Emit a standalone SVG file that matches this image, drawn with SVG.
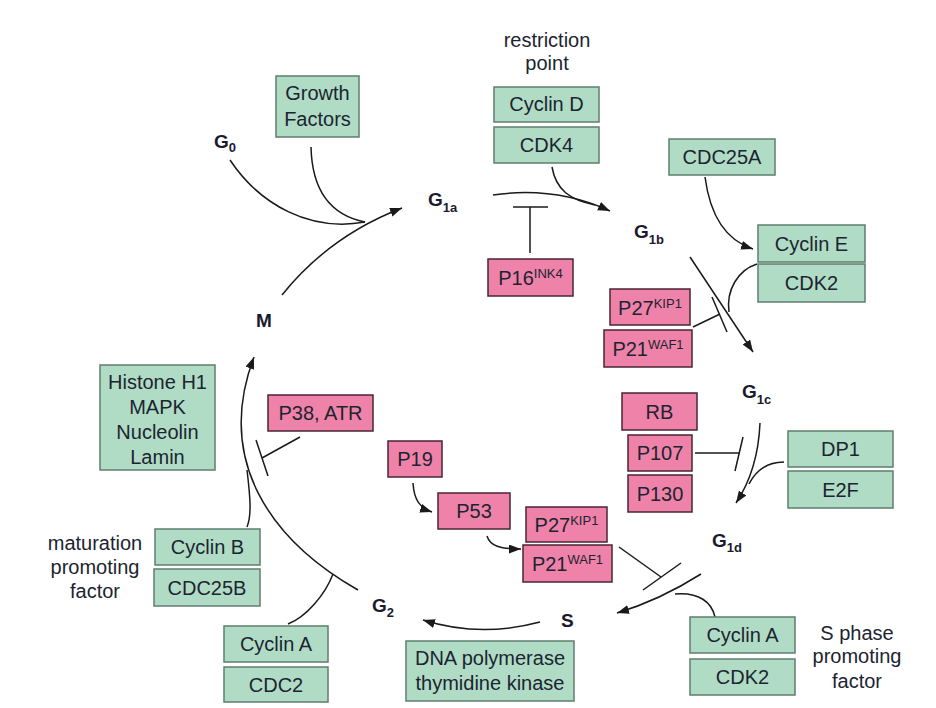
<svg xmlns="http://www.w3.org/2000/svg" width="936" height="708" viewBox="0 0 936 708">
<defs>
<marker id="ah" markerUnits="userSpaceOnUse" markerWidth="14" markerHeight="10" refX="12" refY="4.5" orient="auto">
<path d="M0,0 L12,4.5 L0,9 z" fill="#1a1a1a"/>
</marker>
<style>
.g rect{fill:#b0dcc6;stroke:#5f7d6e;stroke-width:1.5}
.p rect{fill:#ef82a8;stroke:#4a2533;stroke-width:1.5}
text{font-family:"Liberation Sans",Arial,sans-serif;font-size:20px;fill:#1c2430}
.c text{text-anchor:middle}
.ph{font-weight:bold;font-size:19px;fill:#1a1a2e}
.sb{font-size:13px;font-weight:bold}
.sp{font-size:13px}
.lbl{text-anchor:middle}
#connectors path,#connectors line{fill:none;stroke:#1a1a1a;stroke-width:1.5}
</style>
</defs>
<rect width="936" height="708" fill="#ffffff"/>

<g id="connectors">
<path d="M282 295 C310 260 350 228 402 208" marker-end="url(#ah)"/>
<path d="M230 160 C260 205 310 232 365 222"/>
<path d="M311 147 C312 190 330 215 365 222"/>
<path d="M493 195 Q555 186 610 211" marker-end="url(#ah)"/>
<path d="M552 167 C556 190 570 200 595 205"/>
<line x1="530" y1="253" x2="530" y2="207"/>
<line x1="513" y1="207" x2="548" y2="207"/>
<path d="M705 177 C710 215 725 240 753 249" marker-end="url(#ah)"/>
<path d="M690 257 L753 352" marker-end="url(#ah)"/>
<path d="M757 264 C738 270 726 290 729 312"/>
<line x1="693" y1="327" x2="720" y2="314"/>
<line x1="712" y1="297" x2="727" y2="332"/>
<path d="M760 423 Q758 470 736 503" marker-end="url(#ah)"/>
<path d="M784 462 C768 462 756 470 749 484"/>
<line x1="695" y1="453" x2="739" y2="453"/>
<line x1="743" y1="437" x2="735" y2="471"/>
<path d="M701 574 Q660 600 617 613" marker-end="url(#ah)"/>
<path d="M715 617 C712 603 700 592 675 594"/>
<line x1="619" y1="547" x2="661" y2="577"/>
<line x1="643" y1="590" x2="681" y2="563"/>
<path d="M413 483 C414 500 420 508 432 512" marker-end="url(#ah)"/>
<path d="M487 536 C490 546 500 549 521 549" marker-end="url(#ah)"/>
<path d="M540 622 Q480 638 423 620" marker-end="url(#ah)"/>
<path d="M358 590 C270 540 215 460 254 357" marker-end="url(#ah)"/>
<path d="M247 527 C252 515 250 495 247 470"/>
<path d="M288 624 C306 617 325 595 333 574"/>
<line x1="300" y1="437" x2="262" y2="458"/>
<line x1="256" y1="440" x2="268" y2="476"/>
</g>

<g id="phases">
<text class="ph" x="214" y="148">G<tspan class="sb" dy="4">0</tspan></text>
<text class="ph" x="428" y="206">G<tspan class="sb" dy="6">1a</tspan></text>
<text class="ph" x="634" y="238">G<tspan class="sb" dy="6">1b</tspan></text>
<text class="ph" x="742" y="398">G<tspan class="sb" dy="6">1c</tspan></text>
<text class="ph" x="712" y="547">G<tspan class="sb" dy="5">1d</tspan></text>
<text class="ph" x="372" y="612">G<tspan class="sb" dy="5">2</tspan></text>
<text class="ph" x="561" y="627">S</text>
<text class="ph" x="256" y="327">M</text>
</g>

<g id="labels">
<text class="lbl" x="547" y="47">restriction</text>
<text class="lbl" x="547" y="70">point</text>
<text class="lbl" x="95" y="550">maturation</text>
<text class="lbl" x="95" y="574">promoting</text>
<text class="lbl" x="95" y="598">factor</text>
<text class="lbl" x="857" y="640">S phase</text>
<text class="lbl" x="857" y="663">promoting</text>
<text class="lbl" x="857" y="688">factor</text>
</g>

<g id="growth-factors" class="g c"><rect x="276" y="76" width="83" height="61"/><text x="317.5" y="100">Growth</text><text x="317.5" y="126">Factors</text></g>
<g id="cyclin-d" class="g c"><rect x="494" y="87" width="105" height="35"/><text x="546.5" y="111">Cyclin D</text></g>
<g id="cdk4" class="g c"><rect x="494" y="127" width="105" height="36"/><text x="546.5" y="152">CDK4</text></g>
<g id="cdc25a" class="g c"><rect x="669" y="139" width="106" height="36"/><text x="722" y="164">CDC25A</text></g>
<g id="cyclin-e" class="g c"><rect x="758" y="225" width="107" height="37"/><text x="811.5" y="251">Cyclin E</text></g>
<g id="cdk2-e" class="g c"><rect x="758" y="264" width="107" height="38"/><text x="811.5" y="290">CDK2</text></g>
<g id="dp1" class="g c"><rect x="788" y="431" width="105" height="36"/><text x="840.5" y="456">DP1</text></g>
<g id="e2f" class="g c"><rect x="788" y="471" width="105" height="37"/><text x="840.5" y="497">E2F</text></g>
<g id="cyclin-a-s" class="g c"><rect x="690" y="617" width="105" height="36"/><text x="742.5" y="642">Cyclin A</text></g>
<g id="cdk2-a" class="g c"><rect x="690" y="659" width="105" height="36"/><text x="742.5" y="684">CDK2</text></g>
<g id="dna-pol" class="g c"><rect x="406" y="641" width="168" height="60"/><text x="490" y="665">DNA polymerase</text><text x="490" y="690">thymidine kinase</text></g>
<g id="cyclin-a-m" class="g c"><rect x="224" y="626" width="104" height="36"/><text x="276" y="651">Cyclin A</text></g>
<g id="cdc2" class="g c"><rect x="224" y="667" width="104" height="35"/><text x="276" y="692">CDC2</text></g>
<g id="cyclin-b" class="g c"><rect x="155" y="529" width="105" height="36"/><text x="207.5" y="554">Cyclin B</text></g>
<g id="cdc25b" class="g c"><rect x="154" y="569" width="106" height="37"/><text x="207" y="595">CDC25B</text></g>
<g id="histone" class="g c"><rect x="100" y="365" width="115" height="105"/><text x="157.5" y="389">Histone H1</text><text x="157.5" y="414">MAPK</text><text x="157.5" y="439">Nucleolin</text><text x="157.5" y="464">Lamin</text></g>

<g id="p16" class="p c"><rect x="488" y="259" width="85" height="37"/><text x="530.5" y="285">P16<tspan class="sp" dy="-7">INK4</tspan></text></g>
<g id="p27-a" class="p c"><rect x="610" y="289" width="80" height="36"/><text x="650" y="315">P27<tspan class="sp" dy="-7">KIP1</tspan></text></g>
<g id="p21-a" class="p c"><rect x="604" y="330" width="88" height="37"/><text x="648" y="356">P21<tspan class="sp" dy="-7">WAF1</tspan></text></g>
<g id="rb" class="p c"><rect x="622" y="393" width="75" height="37"/><text x="659.5" y="418.5">RB</text></g>
<g id="p107" class="p c"><rect x="628" y="435" width="64" height="36"/><text x="660" y="460">P107</text></g>
<g id="p130" class="p c"><rect x="628" y="475" width="64" height="37"/><text x="660" y="500.5">P130</text></g>
<g id="p38" class="p c"><rect x="268" y="395" width="105" height="36"/><text x="320.5" y="420">P38, ATR</text></g>
<g id="p19" class="p c"><rect x="388" y="441" width="54" height="36"/><text x="415" y="466">P19</text></g>
<g id="p53" class="p c"><rect x="438" y="493" width="72" height="36"/><text x="474" y="518">P53</text></g>
<g id="p27-b" class="p c"><rect x="526" y="507" width="81" height="35"/><text x="566.5" y="532">P27<tspan class="sp" dy="-7">KIP1</tspan></text></g>
<g id="p21-b" class="p c"><rect x="523" y="545" width="89" height="37"/><text x="567.5" y="571">P21<tspan class="sp" dy="-7">WAF1</tspan></text></g>
</svg>
